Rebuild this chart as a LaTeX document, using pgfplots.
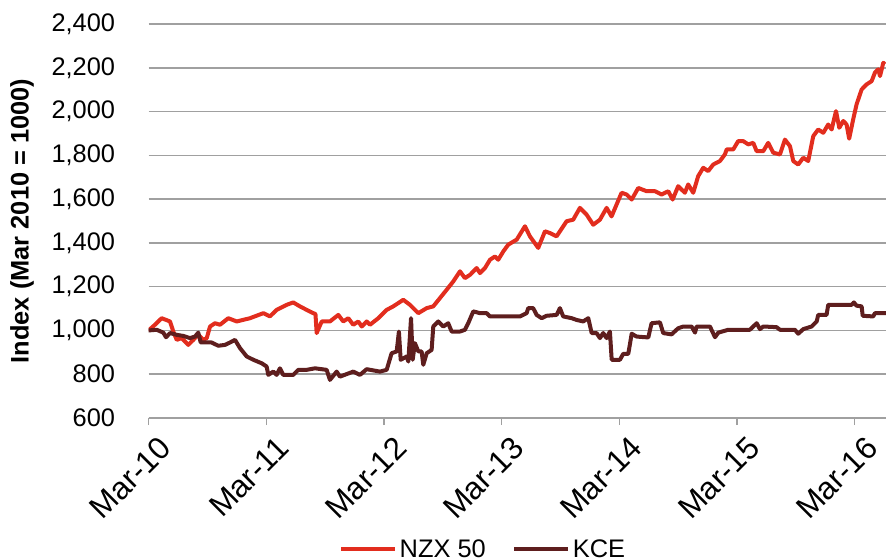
\documentclass[border=0pt]{standalone}
\usepackage{fontspec}
\setmainfont{Liberation Sans}
\usepackage{pgfplots}
\pgfplotsset{compat=1.18}
\definecolor{nzx}{RGB}{226,45,30}
\definecolor{kce}{RGB}{94,30,30}
\definecolor{gridc}{RGB}{160,160,160}
\begin{document}
\begin{tikzpicture}
\begin{axis}[
  name=ax,
  scale only axis, width=737.4bp, height=394bp,
  xmin=0, xmax=6.266, ymin=600, ymax=2400,
  axis lines*=left, axis line style={-},
  x axis line style={draw=gridc, line width=1.5bp},
  y axis line style={draw=none},
  xtick={0,1,2,3,4,5,6},
  xticklabels={Mar-10,Mar-11,Mar-12,Mar-13,Mar-14,Mar-15,Mar-16},
  ytick={600,800,1000,1200,1400,1600,1800,2000,2200,2400},
  ymajorgrids, grid style={gridc, line width=1.5bp},
  tick align=outside, major tick length=7bp,
  xtick style={draw=gridc, line width=1.5bp},
  ytick style={draw=none},
  /pgf/number format/assume math mode=true,
  /pgf/number format/1000 sep={,},
  yticklabel style={anchor=east, xshift=-23bp, font=\fontsize{25.5}{29}\selectfont},
  xticklabel style={rotate=45, anchor=north east, xshift=3bp, yshift=-10bp, font=\fontsize{31.5}{35}\selectfont},
  ylabel={Index (Mar 2010 = 1000)},
  every axis y label/.style={at={(axis description cs:-0.1717,0.5)}, rotate=90, anchor=center, font=\bfseries\fontsize{25.5}{29}\selectfont},
  legend style={at={(axis description cs:0.454,-0.3325)}, anchor=center, draw=none, fill=none,
    legend columns=-1, inner sep=0pt, font=\fontsize{25.5}{29}\selectfont,
    nodes={inner xsep=2.5bp, inner ysep=0pt},
    /tikz/every even column/.append style={column sep=24bp}},
  legend image code/.code={\draw[#1] (0bp,0bp) -- (54bp,0bp);},
]
\addplot[nzx, line width=4bp, line join=round] coordinates {
(0.000,1000) (0.054,1026) (0.111,1056) (0.182,1041) (0.210,995) (0.239,957)
(0.281,965) (0.337,934) (0.380,957) (0.422,980) (0.465,957) (0.494,965)
(0.522,1018) (0.564,1033) (0.607,1026) (0.677,1056) (0.749,1041) (0.862,1056)
(0.975,1079) (1.031,1064) (1.088,1094) (1.173,1117) (1.229,1128) (1.286,1110)
(1.343,1094) (1.399,1079) (1.418,1075) (1.428,988) (1.471,1041) (1.541,1041)
(1.612,1071) (1.654,1041) (1.697,1056) (1.739,1026) (1.782,1041) (1.811,1018)
(1.853,1041) (1.881,1026) (1.952,1056) (2.023,1094) (2.079,1110) (2.164,1140)
(2.221,1117) (2.292,1079) (2.363,1102) (2.419,1110) (2.476,1148) (2.533,1186)
(2.589,1224) (2.646,1270) (2.688,1239) (2.731,1254) (2.788,1285) (2.816,1262)
(2.858,1285) (2.901,1323) (2.943,1338) (2.971,1323) (3.014,1361) (3.056,1392)
(3.128,1415) (3.198,1476) (3.240,1430) (3.311,1377) (3.368,1453) (3.410,1445)
(3.467,1430) (3.552,1499) (3.608,1506) (3.665,1560) (3.722,1529) (3.778,1483)
(3.835,1506) (3.892,1560) (3.934,1521) (4.019,1629) (4.062,1621) (4.105,1598)
(4.161,1651) (4.232,1636) (4.303,1636) (4.359,1621) (4.416,1636) (4.453,1598)
(4.500,1659) (4.557,1629) (4.585,1667) (4.628,1629) (4.670,1705) (4.713,1743)
(4.755,1728) (4.798,1758) (4.855,1774) (4.897,1804) (4.912,1827) (4.968,1827)
(5.010,1865) (5.053,1865) (5.095,1850) (5.138,1857) (5.167,1819) (5.223,1819)
(5.265,1857) (5.308,1812) (5.365,1804) (5.407,1872) (5.450,1842) (5.478,1774)
(5.520,1758) (5.563,1789) (5.605,1774) (5.648,1888) (5.690,1918) (5.733,1903)
(5.775,1941) (5.804,1918) (5.841,2002) (5.869,1926) (5.903,1957) (5.931,1941)
(5.953,1876) (5.987,1964) (6.016,2033) (6.059,2101) (6.101,2124) (6.144,2139)
(6.172,2178) (6.200,2193) (6.215,2162) (6.243,2223) (6.257,2216)
};
\addlegendentry{NZX 50}
\addplot[kce, line width=4bp, line join=round] coordinates {
(0.000,1000) (0.069,1003) (0.125,990) (0.148,969) (0.182,988) (0.239,980)
(0.295,975) (0.352,965) (0.394,972) (0.422,990) (0.443,945) (0.536,945)
(0.592,930) (0.649,934) (0.692,945) (0.734,957) (0.777,919) (0.834,881)
(0.890,866) (0.961,850) (1.003,835) (1.017,797) (1.060,812) (1.088,797)
(1.116,827) (1.144,797) (1.229,797) (1.272,820) (1.343,820) (1.414,827)
(1.513,820) (1.541,774) (1.598,812) (1.626,789) (1.739,812) (1.796,797)
(1.853,823) (1.966,812) (2.023,820) (2.065,896) (2.108,904) (2.127,995)
(2.142,866) (2.193,881) (2.207,858) (2.230,1056) (2.244,866) (2.263,942)
(2.292,904) (2.320,904) (2.334,843) (2.363,896) (2.405,911) (2.419,1018)
(2.461,1041) (2.504,1018) (2.546,1033) (2.575,995) (2.646,995) (2.688,1003)
(2.716,1033) (2.759,1087) (2.816,1079) (2.873,1079) (2.901,1064) (3.156,1064)
(3.212,1079) (3.226,1102) (3.268,1102) (3.297,1071) (3.340,1056) (3.382,1067)
(3.467,1071) (3.495,1102) (3.523,1064) (3.595,1056) (3.637,1048) (3.693,1041)
(3.736,1056) (3.765,988) (3.807,988) (3.835,965) (3.863,988) (3.892,965)
(3.920,995) (3.935,866) (4.005,866) (4.033,893) (4.076,893) (4.105,985)
(4.147,972) (4.246,968) (4.274,1033) (4.345,1037) (4.373,988) (4.444,982)
(4.500,1010) (4.544,1018) (4.614,1018) (4.643,990) (4.657,1018) (4.770,1018)
(4.813,969) (4.841,990) (4.925,1003) (5.109,1003) (5.167,1033) (5.195,1006)
(5.223,1018) (5.336,1015) (5.365,1003) (5.492,1003) (5.520,985) (5.563,1006)
(5.634,1018) (5.677,1041) (5.690,1071) (5.761,1071) (5.775,1117) (5.974,1117)
(5.993,1128) (6.016,1113) (6.059,1110) (6.068,1067) (6.157,1064) (6.172,1079)
(6.266,1079)
};
\addlegendentry{KCE}
\end{axis}
\pgfresetboundingbox
\path[use as bounding box] ([xshift=-148.6bp,yshift=-141bp]ax.south west) rectangle ([yshift=24bp]ax.north east);
\end{tikzpicture}
\end{document}
